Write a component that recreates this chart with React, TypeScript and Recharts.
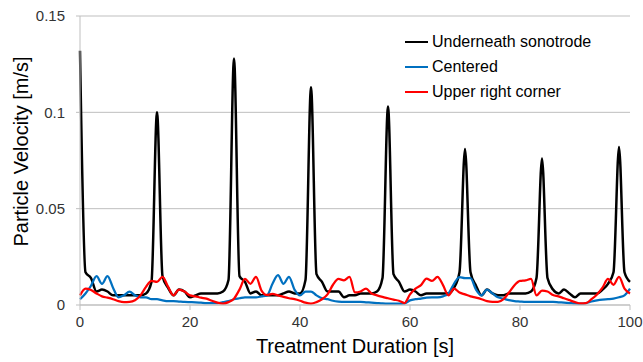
import React from 'react';
import {
  LineChart,
  Line,
  XAxis,
  YAxis,
  CartesianGrid,
  Label,
} from 'recharts';

/* ------------------------------------------------------------------ */
/* Data (1 s sampling)                         */
/* ------------------------------------------------------------------ */

const TIME_S = Array.from({ length: 101 }, (_, i) => i);

const UNDERNEATH = [
  0.132, 0.017, 0.014, 0.007, 0.008, 0.007, 0.005, 0.005, 0.005, 0.005,
  0.005, 0.005, 0.006, 0.012, 0.1, 0.015, 0.009, 0.005, 0.008, 0.007,
  0.004, 0.005, 0.006, 0.006, 0.006, 0.006, 0.007, 0.013, 0.128, 0.015,
  0.012, 0.006, 0.007, 0.005, 0.005, 0.005, 0.005, 0.006, 0.007, 0.006,
  0.006, 0.013, 0.113, 0.016, 0.012, 0.007, 0.007, 0.007, 0.004, 0.005,
  0.005, 0.006, 0.006, 0.006, 0.007, 0.014, 0.103, 0.016, 0.012, 0.007,
  0.008, 0.007, 0.005, 0.006, 0.006, 0.006, 0.006, 0.006, 0.009, 0.017,
  0.081, 0.017, 0.01, 0.005, 0.008, 0.006, 0.005, 0.005, 0.006, 0.006,
  0.006, 0.006, 0.007, 0.014, 0.076, 0.014, 0.008, 0.006, 0.008, 0.006,
  0.004, 0.006, 0.006, 0.006, 0.006, 0.008, 0.011, 0.017, 0.082, 0.017,
  0.012,
];

const CENTERED = [
  0.003, 0.006, 0.01, 0.015, 0.011, 0.015, 0.009, 0.004, 0.005, 0.007,
  0.005, 0.004, 0.004, 0.003, 0.003, 0.0024, 0.002, 0.002, 0.0018, 0.0016,
  0.0015, 0.0014, 0.0012, 0.001, 0.001, 0.001, 0.0015, 0.002, 0.003, 0.0035,
  0.004, 0.004, 0.004, 0.0045, 0.005, 0.011, 0.0155, 0.011, 0.0146, 0.008,
  0.005, 0.007, 0.007, 0.005, 0.0035, 0.003, 0.0022, 0.0018, 0.0016, 0.0016,
  0.0016, 0.0016, 0.0014, 0.0012, 0.001, 0.0008, 0.0007, 0.0007, 0.0007, 0.0008,
  0.0024, 0.003, 0.0033, 0.0038, 0.004, 0.004, 0.0045, 0.006, 0.011, 0.0145,
  0.014, 0.014, 0.008, 0.005, 0.008, 0.006, 0.004, 0.0033, 0.0025, 0.002,
  0.0018, 0.0016, 0.0016, 0.0016, 0.0016, 0.0016, 0.0016, 0.0014, 0.0012, 0.001,
  0.0008, 0.0007, 0.001, 0.0018, 0.0024, 0.0028, 0.003, 0.0033, 0.004, 0.005,
  0.0085,
];

const UPPER_RIGHT = [
  0.005, 0.0085, 0.0078, 0.006, 0.0045, 0.0038, 0.003, 0.002, 0.0015, 0.0016,
  0.0025, 0.005, 0.0094, 0.0125, 0.012, 0.0146, 0.0095, 0.005, 0.008, 0.007,
  0.005, 0.0045, 0.0038, 0.0033, 0.0022, 0.0012, 0.0007, 0.0015, 0.0033, 0.008,
  0.0135, 0.011, 0.0146, 0.0075, 0.0052, 0.0058, 0.005, 0.0042, 0.0035, 0.003,
  0.0022, 0.0012, 0.0007, 0.0015, 0.003, 0.0055, 0.0105, 0.0135, 0.0128, 0.0146,
  0.0065, 0.007, 0.0085, 0.006, 0.005, 0.0042, 0.0035, 0.0028, 0.0022, 0.001,
  0.0055, 0.0085, 0.0103, 0.0137, 0.0125, 0.0146, 0.0103, 0.005, 0.0085, 0.0065,
  0.0055, 0.0045, 0.0038, 0.003, 0.002, 0.0016, 0.0016, 0.003, 0.0065, 0.0103,
  0.0125, 0.0128, 0.0135, 0.005, 0.0075, 0.007, 0.0052, 0.0045, 0.0035, 0.0025,
  0.0015, 0.0008, 0.001, 0.003, 0.0055, 0.009, 0.0135, 0.0105, 0.0146, 0.0085,
  0.006,
];

const X_TICKS = [0, 20, 40, 60, 80, 100];
const Y_TICKS = [0, 0.05, 0.1, 0.15];

const SERIES = [
  { key: 'under', name: 'Underneath sonotrode', color: '#000000', width: 2.5, values: UNDERNEATH },
  { key: 'center', name: 'Centered', color: '#0070C0', width: 2.25, values: CENTERED },
  { key: 'upper', name: 'Upper right corner', color: '#FF0000', width: 2.25, values: UPPER_RIGHT },
];

const rows = TIME_S.map((t, i) => ({
  t,
  under: UNDERNEATH[i],
  center: CENTERED[i],
  upper: UPPER_RIGHT[i],
}));

/* ------------------------------------------------------------------ */
/* Styling                                                             */
/* ------------------------------------------------------------------ */

const FONT = '"Liberation Sans", Arial, sans-serif';
const AXIS_GRAY = '#bfbfbf';
const TICK_TEXT = '#333333';

function ChartLegend() {
  return (
    <div
      style={{
        position: 'absolute',
        left: 405,
        top: 29,
        fontFamily: FONT,
        fontSize: 16,
        color: '#000',
      }}
    >
      {SERIES.map((s) => (
        <div key={s.key} style={{ display: 'flex', alignItems: 'center', height: 25 }}>
          <span
            style={{
              display: 'inline-block',
              width: 23,
              height: 0,
              borderTop: `${s.width}px solid ${s.color}`,
              marginRight: 4,
            }}
          />
          {s.name}
        </div>
      ))}
    </div>
  );
}

export default function App() {
  return (
    <div style={{ position: 'absolute', left: 0, top: 0, width: 643, height: 362, background: '#fff' }}>
      <LineChart
        width={643}
        height={362}
        data={rows}
        margin={{ top: 16, right: 13, bottom: 0, left: 0 }}
      >
        <CartesianGrid stroke={AXIS_GRAY} vertical={false} />
        <XAxis
          dataKey="t"
          type="number"
          domain={[0, 100]}
          ticks={X_TICKS}
          height={57}
          stroke={AXIS_GRAY}
          tickSize={5}
          tickMargin={6}
          tick={{ fontSize: 15, fill: TICK_TEXT, fontFamily: FONT }}
        >
          <Label
            content={({ viewBox }: any) => (
              <text
                x={viewBox.x + viewBox.width / 2}
                y={viewBox.y + 48}
                textAnchor="middle"
                fontSize={20}
                fontFamily={FONT}
                fill="#000"
              >
                Treatment Duration [s]
              </text>
            )}
          />
        </XAxis>
        <YAxis
          type="number"
          domain={[0, 0.15]}
          ticks={Y_TICKS}
          width={80}
          stroke={AXIS_GRAY}
          tickSize={4}
          tickMargin={11}
          tickFormatter={(v: number) => String(v)}
          tick={{ fontSize: 15, fill: TICK_TEXT, fontFamily: FONT }}
        >
          <Label
            content={({ viewBox }: any) => {
              const cx = viewBox.x + 28;
              const cy = viewBox.y + viewBox.height / 2 - 9;
              return (
                <text
                  x={cx}
                  y={cy}
                  transform={`rotate(-90 ${cx} ${cy})`}
                  textAnchor="middle"
                  fontSize={20}
                  fontFamily={FONT}
                  fill="#000"
                >
                  Particle Velocity [m/s]
                </text>
              );
            }}
          />
        </YAxis>
        {SERIES.map((s) => (
          <Line
            key={s.key}
            dataKey={s.key}
            name={s.name}
            type="monotone"
            stroke={s.color}
            strokeWidth={s.width}
            dot={false}
            activeDot={false}
            isAnimationActive={false}
          />
        ))}
      </LineChart>
      <ChartLegend />
    </div>
  );
}
